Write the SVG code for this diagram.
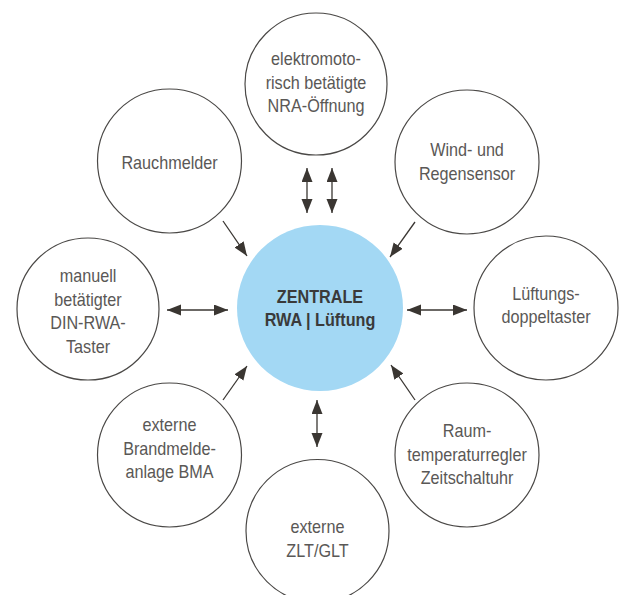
<svg xmlns="http://www.w3.org/2000/svg" width="623" height="595" viewBox="0 0 623 595">
<defs>
<marker id="ah" markerUnits="userSpaceOnUse" markerWidth="15" markerHeight="12" refX="14" refY="5.5" orient="auto-start-reverse" viewBox="0 0 15 12">
<path d="M0,0 L14,5.5 L0,11 z" fill="#3a3632"/>
</marker>
</defs>
<style>
.n{fill:#fff;stroke:#4a4846;stroke-width:1.2}
.t{font-family:"Liberation Sans",Arial,sans-serif;font-size:18.5px;fill:#5a5856;text-anchor:middle}
.c{font-family:"Liberation Sans",Arial,sans-serif;font-size:18.5px;font-weight:bold;fill:#3a3a3a;text-anchor:middle}
.a{stroke:#3a3632;stroke-width:1.3;fill:none;marker-end:url(#ah)}
.d{stroke:#3a3632;stroke-width:1.3;fill:none;marker-end:url(#ah);marker-start:url(#ah)}
</style>
<rect width="623" height="595" fill="#fff"/>
<g id="connectors">
<line class="d" x1="307" y1="168" x2="307" y2="213"/>
<line class="d" x1="332" y1="168" x2="332" y2="213"/>
<line class="a" x1="223" y1="221" x2="247" y2="256"/>
<line class="a" x1="415" y1="222" x2="390" y2="257"/>
<line class="d" x1="167" y1="310" x2="228" y2="310"/>
<line class="d" x1="407" y1="310" x2="467" y2="310"/>
<line class="a" x1="223" y1="400" x2="247" y2="366"/>
<line class="a" x1="415" y1="400" x2="391" y2="365"/>
<line class="d" x1="317" y1="400" x2="317" y2="447"/>
</g>
<g id="zentrale">
<circle cx="320" cy="308" r="83" fill="#a3d8f4"/>
<text class="c" transform="matrix(0.875 0 0 1 320 303)">ZENTRALE</text>
<text class="c" transform="matrix(0.875 0 0 1 320 326)">RWA | Lüftung</text>
</g>
<g id="nra">
<circle class="n" cx="316" cy="84" r="71"/>
<text class="t" transform="matrix(0.875 0 0 1 316 65)">elektromoto-</text>
<text class="t" transform="matrix(0.875 0 0 1 316 88.5)">risch betätigte</text>
<text class="t" transform="matrix(0.875 0 0 1 316 112)">NRA-Öffnung</text>
</g>
<g id="rauchmelder">
<circle class="n" cx="169.5" cy="161" r="72"/>
<text class="t" transform="matrix(0.875 0 0 1 169.5 169)">Rauchmelder</text>
</g>
<g id="wind">
<circle class="n" cx="467" cy="162" r="72"/>
<text class="t" transform="matrix(0.875 0 0 1 467 156)">Wind- und</text>
<text class="t" transform="matrix(0.875 0 0 1 467 179.5)">Regensensor</text>
</g>
<g id="manuell">
<circle class="n" cx="88" cy="309" r="71"/>
<text class="t" transform="matrix(0.875 0 0 1 88 282)">manuell</text>
<text class="t" transform="matrix(0.875 0 0 1 88 305.5)">betätigter</text>
<text class="t" transform="matrix(0.875 0 0 1 88 329)">DIN-RWA-</text>
<text class="t" transform="matrix(0.875 0 0 1 88 352.5)">Taster</text>
</g>
<g id="lueftung">
<circle class="n" cx="546" cy="308" r="72"/>
<text class="t" transform="matrix(0.875 0 0 1 546 300)">Lüftungs-</text>
<text class="t" transform="matrix(0.875 0 0 1 546 323)">doppeltaster</text>
</g>
<g id="bma">
<circle class="n" cx="169.5" cy="455" r="72"/>
<text class="t" transform="matrix(0.875 0 0 1 169.5 431)">externe</text>
<text class="t" transform="matrix(0.875 0 0 1 169.5 454.5)">Brandmelde-</text>
<text class="t" transform="matrix(0.875 0 0 1 169.5 478)">anlage BMA</text>
</g>
<g id="raum">
<circle class="n" cx="467" cy="455" r="72"/>
<text class="t" transform="matrix(0.875 0 0 1 467 437)">Raum-</text>
<text class="t" transform="matrix(0.875 0 0 1 467 460.5)">temperaturregler</text>
<text class="t" transform="matrix(0.875 0 0 1 467 484)">Zeitschaltuhr</text>
</g>
<g id="zlt">
<circle class="n" cx="317.5" cy="531" r="71.5"/>
<text class="t" transform="matrix(0.875 0 0 1 317.5 533)">externe</text>
<text class="t" transform="matrix(0.875 0 0 1 317.5 556.5)">ZLT/GLT</text>
</g>
</svg>
